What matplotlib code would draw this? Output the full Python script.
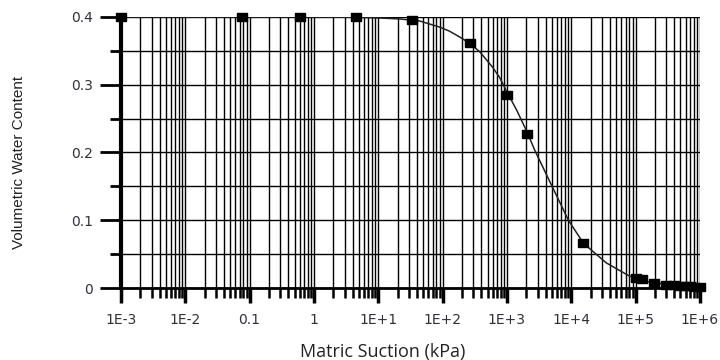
import numpy as np
import matplotlib
matplotlib.use('Agg')
import matplotlib.pyplot as plt
from matplotlib.ticker import LogLocator, FixedLocator, MultipleLocator, NullFormatter

# Measured points (matric suction kPa, volumetric water content)
suction = [1e-3, 0.077, 0.6, 4.5, 34, 263, 1020, 2090, 15500,
           1.0e5, 1.27e5, 1.95e5, 3e5, 4e5, 5e5, 6e5, 7e5, 8e5, 1e6]
theta = [0.400, 0.400, 0.400, 0.3995, 0.395, 0.362, 0.285, 0.227, 0.066,
         0.015, 0.013, 0.0075, 0.0045, 0.004, 0.0035, 0.003, 0.0025, 0.002, 0.0015]

# Fitted curve, read along its length
fit_suction = [1e-3, 1, 5, 10, 21.5, 34, 44, 90, 128, 184, 263, 375, 597, 767, 1020,
               1410, 2090, 2690, 5100, 9060, 15500, 35200, 80200, 1.82e5, 1.05e6]
fit_theta = [0.400, 0.400, 0.3993, 0.3985, 0.397, 0.395, 0.394, 0.385, 0.379, 0.3705,
             0.361, 0.349, 0.326, 0.311, 0.288, 0.263, 0.229, 0.204, 0.149, 0.100,
             0.066, 0.037, 0.0177, 0.0074, 0.003]

x_ticks = [1e-3, 1e-2, 0.1, 1, 1e1, 1e2, 1e3, 1e4, 1e5, 1e6]
x_labels = ['1E-3', '1E-2', '0.1', '1', '1E+1', '1E+2', '1E+3', '1E+4', '1E+5', '1E+6']
y_ticks = [0, 0.1, 0.2, 0.3, 0.4]
y_labels = ['0', '0.1', '0.2', '0.3', '0.4']

fig = plt.figure(figsize=(7.2, 3.6), dpi=100)
ax = fig.add_axes([0.168, 0.2, 0.804, 0.753])

ax.set_xscale('log')
ax.set_xlim(1e-3, 1e6)
ax.set_ylim(0, 0.4)

ax.xaxis.set_major_locator(FixedLocator(x_ticks))
ax.xaxis.set_minor_locator(LogLocator(base=10, subs=np.arange(2, 10), numticks=50))
ax.xaxis.set_minor_formatter(NullFormatter())
ax.set_xticklabels(x_labels)
ax.set_yticks(y_ticks)
ax.set_yticklabels(y_labels)
ax.yaxis.set_minor_locator(MultipleLocator(0.05))

ax.grid(which='both', axis='both', color='black', linewidth=1.0)
ax.set_axisbelow(True)

# flat rectangular marker, a bit wider than tall
rect = [(-1, -0.72), (1, -0.72), (1, 0.72), (-1, 0.72), (-1, -0.72)]
ax.plot(fit_suction, fit_theta, color='#222222', linewidth=1.1, zorder=3)
ax.plot(suction, theta, linestyle='none', marker=rect, markersize=7.5,
        color='black', clip_on=False, zorder=4)

for side in ['top', 'right']:
    ax.spines[side].set_visible(False)
ax.spines['left'].set_linewidth(3)
ax.spines['bottom'].set_linewidth(2)

ax.tick_params(axis='x', which='major', length=11, width=2.5, pad=7,
               labelsize=10, labelcolor='#30303a')
ax.tick_params(axis='x', which='minor', length=7, width=1.8)
ax.tick_params(axis='y', which='major', length=15, width=2, pad=5,
               labelsize=10, labelcolor='#30303a')
ax.tick_params(axis='y', which='minor', length=8, width=2)

ax.set_xlabel('Matric Suction (kPa)', fontsize=13, color='#222222', va='center',
              family=['Open Sans', 'DejaVu Sans'])
ax.xaxis.set_label_coords(0.452, -0.236)
ax.set_ylabel('Volumetric Water Content', fontsize=11, color='#222222', va='center',
              family=['Liberation Sans', 'DejaVu Sans'])
ax.yaxis.set_label_coords(-0.176, 0.465)

fig.savefig('out.png', dpi=100)
